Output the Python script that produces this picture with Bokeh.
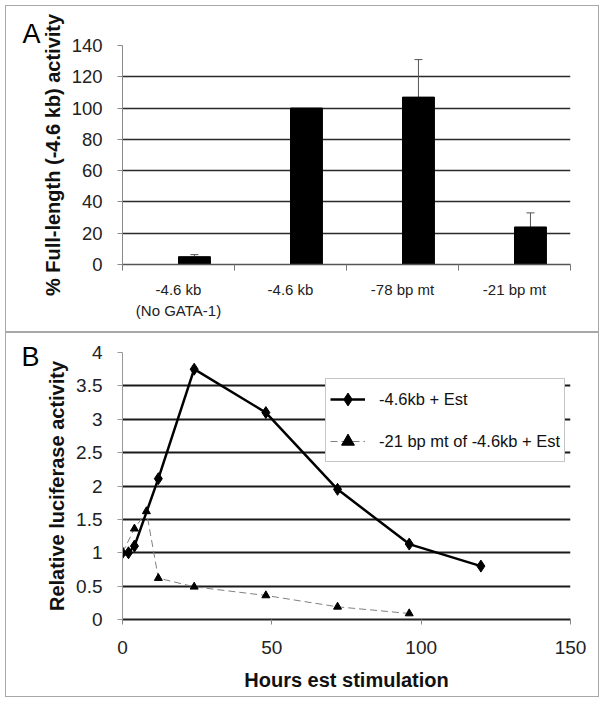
import numpy as np
from bokeh.plotting import figure
from bokeh.models import (ColumnDataSource, FixedTicker, Whisker, TeeHead, Range1d,
                          CustomJSTickFormatter, Title, LinearAxis)
from bokeh.layouts import column
from bokeh.embed import file_html
from bokeh.resources import INLINE

# ---------------- data ----------------
bar_categories = ["-4.6 kb\n(No GATA-1)", "-4.6 kb", "-78 bp mt", "-21 bp mt"]
bar_activity = [5, 100, 107, 24]
bar_error = [1.3, 0, 24, 9]
a_yticks = [0, 20, 40, 60, 80, 100, 120, 140]

hours_est = [0, 2, 4, 12, 24, 48, 72, 96, 120]
luc_est = [1.0, 1.0, 1.1, 2.11, 3.75, 3.1, 1.95, 1.13, 0.8]
hours_mt = [0, 4, 8, 12, 24, 48, 72, 96]
luc_mt = [1.0, 1.36, 1.62, 0.62, 0.49, 0.36, 0.19, 0.09]
b_yticks = [0, 0.5, 1, 1.5, 2, 2.5, 3, 3.5, 4]
b_xticks = [0, 50, 100, 150]
series_labels = ["-4.6kb + Est", "-21 bp mt of -4.6kb + Est"]
panel_b_letter = "B"
panel_b_letter_level = [3.94]

FONT = "Liberation Sans"
BORDER = "1px solid #a8a8a8"

# ---------------- panel A ----------------
n = len(bar_categories)
centers = np.arange(n) + 0.5
bar_w = 0.285
bar_x = centers + bar_w / 2

pA = figure(width=594, height=327, x_range=Range1d(0, n), y_range=Range1d(0, 140),
            output_backend="svg", toolbar_location=None,
            min_border_left=115, min_border_right=30, min_border_top=39, min_border_bottom=69)
pA.outline_line_color = None
pA.background_fill_color = "white"
pA.border_fill_color = "white"

pA.vbar(x=bar_x, top=bar_activity, width=bar_w, color="black")

err_mask = [e > 0 for e in bar_error]
wsrc = ColumnDataSource(dict(
    x=[x for x, m in zip(bar_x, err_mask) if m],
    lower=[v for v, m in zip(bar_activity, err_mask) if m],
    upper=[v + e for v, e, m in zip(bar_activity, bar_error, err_mask) if m],
))
pA.add_layout(Whisker(source=wsrc, base="x", lower="lower", upper="upper", dimension="height",
                      line_color="#555555", line_width=1,
                      upper_head=TeeHead(size=8, line_color="#555555", line_width=1),
                      lower_head=None))

pA.xgrid.visible = False
pA.ygrid.ticker = FixedTicker(ticks=a_yticks)
pA.ygrid.grid_line_color = "#2a2a2a"
pA.ygrid.grid_line_width = 1.3

pA.yaxis.ticker = FixedTicker(ticks=a_yticks)
pA.yaxis.axis_line_color = "#888888"
pA.yaxis.major_tick_line_color = "#888888"
pA.yaxis.major_tick_out = 5
pA.yaxis.major_tick_in = 0
pA.yaxis.minor_tick_line_color = None
pA.yaxis.major_label_standoff = 15
pA.yaxis.major_label_text_font = FONT
pA.yaxis.major_label_text_font_size = "18.5px"
pA.yaxis.major_label_text_color = "#222222"
pA.yaxis.axis_label = "% Full-length (-4.6 kb) activity"
pA.yaxis.axis_label_text_font = FONT
pA.yaxis.axis_label_text_font_size = "20px"
pA.yaxis.axis_label_text_font_style = "bold"
pA.yaxis.axis_label_text_color = "#111111"
pA.yaxis.axis_label_standoff = 5

pA.xaxis.ticker = FixedTicker(ticks=list(centers), minor_ticks=list(range(n + 1)))
pA.xaxis.formatter = CustomJSTickFormatter(args=dict(labels=bar_categories),
                                           code="return labels[Math.floor(tick)];")
pA.xaxis.axis_line_color = "#555555"
pA.xaxis.axis_line_width = 1.5
pA.xaxis.major_tick_line_color = None
pA.xaxis.major_tick_out = 0
pA.xaxis.major_tick_in = 0
pA.xaxis.minor_tick_line_color = "#777777"
pA.xaxis.minor_tick_out = 6
pA.xaxis.minor_tick_in = 0
pA.xaxis.major_label_standoff = 10
pA.xaxis.major_label_text_font = FONT
pA.xaxis.major_label_text_font_size = "15px"
pA.xaxis.major_label_text_color = "#222222"
pA.xaxis.major_label_text_line_height = 1.25

pA.add_layout(Title(text="A", text_font=FONT, text_font_size="27px", text_font_style="normal",
                    text_color="black", align="left", offset=-100, standoff=-6), "above")
pA.styles = {"border": BORDER}

# ---------------- panel B ----------------
pB = figure(width=594, height=365, x_range=Range1d(0, 150), y_range=Range1d(0, 4),
            output_backend="svg", toolbar_location=None,
            min_border_left=116, min_border_right=28, min_border_top=19, min_border_bottom=79)
pB.outline_line_color = None
pB.background_fill_color = "white"
pB.border_fill_color = "white"

pB.line(hours_est, luc_est, line_color="black", line_width=2.5, legend_label=series_labels[0])
pB.scatter(hours_est, luc_est, marker="diamond", size=12, color="black",
           legend_label=series_labels[0])
pB.line(hours_mt, luc_mt, line_color="#808080", line_width=1, line_dash="7 4",
        legend_label=series_labels[1])
pB.scatter(hours_mt, luc_mt, marker="triangle", size=8, color="black",
           legend_label=series_labels[1])

pB.xgrid.visible = False
pB.ygrid.ticker = FixedTicker(ticks=b_yticks)
pB.ygrid.grid_line_color = "#1a1a1a"
pB.ygrid.grid_line_width = 2

pB.yaxis.ticker = FixedTicker(ticks=b_yticks)
pB.yaxis.formatter = CustomJSTickFormatter(code="return tick.toString();")
pB.yaxis.axis_line_color = "#999999"
pB.yaxis.major_tick_line_color = "#999999"
pB.yaxis.major_tick_out = 5
pB.yaxis.major_tick_in = 0
pB.yaxis.minor_tick_line_color = None
pB.yaxis.major_label_standoff = 15
pB.yaxis.major_label_text_font = FONT
pB.yaxis.major_label_text_font_size = "19px"
pB.yaxis.major_label_text_color = "#222222"
pB.yaxis.axis_label = "Relative luciferase activity"
pB.yaxis.axis_label_text_font = FONT
pB.yaxis.axis_label_text_font_size = "20px"
pB.yaxis.axis_label_text_font_style = "bold"
pB.yaxis.axis_label_text_color = "#111111"
pB.yaxis.axis_label_standoff = 5

# panel letter "B" as an extra, line-less left axis (outermost)
letter_axis = LinearAxis(ticker=FixedTicker(ticks=panel_b_letter_level),
                         formatter=CustomJSTickFormatter(args=dict(t=panel_b_letter),
                                                         code="return t;"))
letter_axis.axis_line_color = None
letter_axis.major_tick_line_color = None
letter_axis.minor_tick_line_color = None
letter_axis.major_tick_out = 0
letter_axis.major_tick_in = 0
letter_axis.major_label_standoff = 4
letter_axis.major_label_text_font = FONT
letter_axis.major_label_text_font_size = "27px"
letter_axis.major_label_text_color = "black"
pB.add_layout(letter_axis, "left")

pB.xaxis.ticker = FixedTicker(ticks=b_xticks)
pB.xaxis.axis_line_color = "#222222"
pB.xaxis.axis_line_width = 2
pB.xaxis.major_tick_line_color = "#888888"
pB.xaxis.major_tick_out = 5
pB.xaxis.major_tick_in = 0
pB.xaxis.minor_tick_line_color = None
pB.xaxis.major_label_standoff = 16
pB.xaxis.major_label_text_font = FONT
pB.xaxis.major_label_text_font_size = "19px"
pB.xaxis.major_label_text_color = "#222222"
pB.xaxis.axis_label = "Hours est stimulation"
pB.xaxis.axis_label_text_font = FONT
pB.xaxis.axis_label_text_font_size = "20px"
pB.xaxis.axis_label_text_font_style = "bold"
pB.xaxis.axis_label_text_color = "#111111"
pB.xaxis.axis_label_standoff = 12

lg = pB.legend[0]
lg.location = (203, 157)
lg.margin = 0
lg.padding = 4
lg.spacing = 10
lg.glyph_width = 35
lg.glyph_height = 32
lg.label_height = 32
lg.label_standoff = 14
lg.label_text_font = FONT
lg.label_text_font_size = "16.5px"
lg.label_text_color = "#111111"
lg.border_line_color = "#8c8c8c"
lg.border_line_width = 1
lg.background_fill_color = "white"
lg.background_fill_alpha = 1.0

pB.styles = {"border": BORDER}

layout = column(pA, pB, styles={"margin-left": "5px", "margin-top": "5px"})
open("out.html", "w").write(file_html(layout, INLINE))
